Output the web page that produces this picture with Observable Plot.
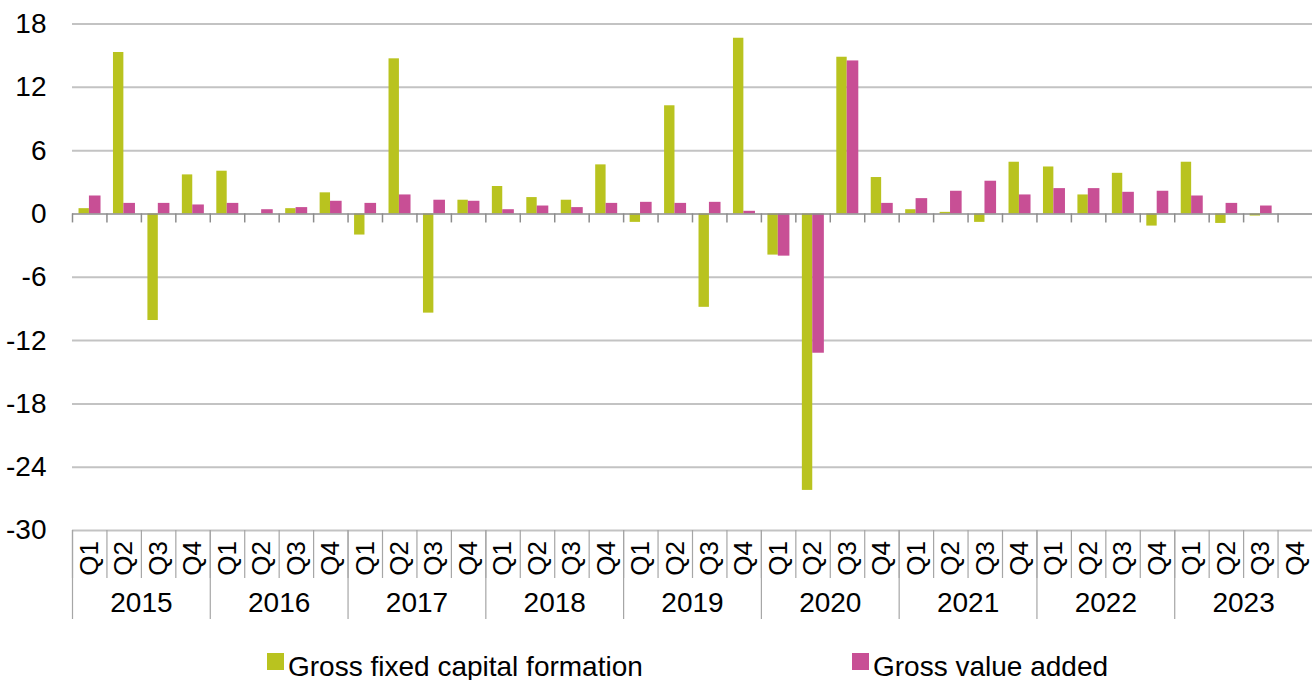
<!DOCTYPE html>
<html>
<head>
<meta charset="utf-8">
<script src="https://cdn.jsdelivr.net/npm/d3@7"></script>
<script src="https://cdn.jsdelivr.net/npm/@observablehq/plot@0.6"></script>
<style>
  html, body { margin: 0; padding: 0; background: #fff; }
  body { width: 1312px; height: 680px; overflow: hidden; font-family: "Liberation Sans", Arial, sans-serif; }
  #legend { position: relative; height: 35px; font-size: 28px; line-height: 32px; color: #000; }
  .item { position: absolute; top: 6px; white-space: nowrap; }
  .sw { position: absolute; width: 17px; height: 17px; top: 8px; }
</style>
</head>
<body>
<div id="chart"></div>
<div id="legend"></div>
<script>
// ---- data ----
const years = [2015, 2016, 2017, 2018, 2019, 2020, 2021, 2022, 2023];
const quarterLabels = ["Q1", "Q2", "Q3", "Q4"];
const seriesNames = ["Gross fixed capital formation", "Gross value added"];
const gfcf = [
  0.5, 15.3, -10.1, 3.7,
  4.05, 0, 0.5, 2.0,
  -2.0, 14.7, -9.4, 1.3,
  2.6, 1.55, 1.3, 4.65,
  -0.8, 10.25, -8.85, 16.65,
  -3.9, -26.2, 14.85, 3.45,
  0.4, 0.15, -0.8, 4.9,
  4.45, 1.8, 3.85, -1.15,
  4.9, -0.9, -0.2, null
];
const gva = [
  1.7, 1.0, 1.0, 0.85,
  1.0, 0.4, 0.6, 1.2,
  1.0, 1.8, 1.3, 1.2,
  0.4, 0.75, 0.6, 1.0,
  1.1, 1.0, 1.1, 0.25,
  -4.0, -13.2, 14.5, 1.0,
  1.45, 2.15, 3.1, 1.8,
  2.4, 2.4, 2.05, 2.15,
  1.7, 1.0, 0.75, null
];
const yTicks = [-30, -24, -18, -12, -6, 0, 6, 12, 18];

// ---- derived table ----
const rows = [];
years.forEach(y => quarterLabels.forEach(q => rows.push({year: y, q, key: `${y} ${q}`})));
rows.forEach((r, i) => { r.gfcf = gfcf[i]; r.gva = gva[i]; });
const keys = rows.map(r => r.key);

// ---- layout ----
const W = 1312, H = 645, ML = 72, MR = 0, MT = 23.5, MB = 115;
const plotH = H - MT - MB;
const bw = (W - ML - MR) / keys.length;
const barW = 10.7;
const green = "#b9c31f", pink = "#c84f95";

const chart = Plot.plot({
  width: W, height: H,
  marginLeft: ML, marginRight: MR, marginTop: MT, marginBottom: MB,
  style: {fontFamily: "'Liberation Sans', Arial, sans-serif", fontSize: "28px", color: "#000", background: "#fff"},
  x: {type: "band", domain: keys, padding: 0, round: false, axis: null},
  y: {domain: [-30, 18], ticks: yTicks, tickSize: 0, tickPadding: 26, tickFormat: d => String(d), label: null},
  marks: [
    Plot.ruleY(yTicks.filter(d => d !== 0), {stroke: "#c3c3c3", strokeWidth: 2}),
    Plot.barY(rows.filter(r => r.gfcf != null), {x: "key", y: "gfcf", fill: green,
      insetLeft: bw / 2 - barW, insetRight: bw / 2 + 0.3}),
    Plot.barY(rows.filter(r => r.gva != null), {x: "key", y: "gva", fill: pink,
      insetLeft: bw / 2 - 0.3, insetRight: bw / 2 - barW - 0.6}),
    Plot.ruleY([0], {stroke: "#8c8c8c", strokeWidth: 1.5}),
    // tick marks under zero line at category boundaries
    Plot.ruleX(keys, {x: d => d, y1: () => 0, y2: () => 0, dx: -bw / 2, insetBottom: -9, stroke: "#8c8c8c", strokeWidth: 1.5}),
    // quarter separators below plot
    Plot.ruleX(keys, {x: d => d, dx: -bw / 2, insetTop: plotH, insetBottom: -48, stroke: "#a6a6a6", strokeWidth: 1.2}),
    // year separators
    Plot.ruleX(rows.filter(r => r.q === "Q1"), {x: "key", dx: -bw / 2, insetTop: plotH, insetBottom: -89, stroke: "#a6a6a6", strokeWidth: 1.2}),
    // quarter labels
    Plot.text(rows, {x: "key", text: "q", frameAnchor: "bottom", lineAnchor: "middle", textAnchor: "middle", dy: 28, rotate: -90, fontSize: 26, fill: "#000"}),
    // year labels
    Plot.text(rows.filter(r => r.q === "Q2"), {x: "key", text: d => String(d.year), dx: bw / 2, frameAnchor: "bottom", lineAnchor: "middle", textAnchor: "middle", dy: 73, fontSize: 28, fill: "#000"})
  ]
});
document.getElementById("chart").appendChild(chart);

// ---- legend ----
const legend = document.getElementById("legend");
const legendPos = [267, 852];
const legendColors = [green, pink];
seriesNames.forEach((name, i) => {
  const sw = document.createElement("div");
  sw.className = "sw";
  sw.style.left = legendPos[i] + "px";
  sw.style.background = legendColors[i];
  legend.appendChild(sw);
  const t = document.createElement("div");
  t.className = "item";
  t.style.left = (legendPos[i] + 21) + "px";
  t.textContent = name;
  legend.appendChild(t);
});
</script>
</body>
</html>
